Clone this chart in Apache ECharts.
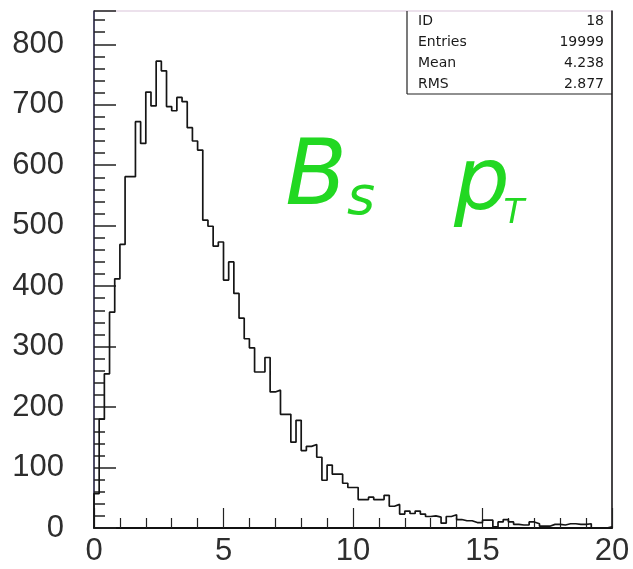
<!DOCTYPE html>
<html>
<head>
<meta charset="utf-8">
<script src="https://cdn.jsdelivr.net/npm/echarts@6/dist/echarts.min.js"></script>
<style>
  html, body { margin: 0; padding: 0; background: #ffffff; }
  #chart { width: 633px; height: 569px; }
</style>
</head>
<body>
<div id="chart"></div>
<script>
// Histogram 18: B_s transverse momentum, 100 bins from 0 to 20
const xRange = [0, 20];
const binCounts = [
  57, 180, 255, 357, 412, 469, 581, 581, 672, 636,
  721, 698, 772, 756, 697, 690, 712, 705, 662, 640,
  625, 509, 499, 466, 473, 410, 440, 388, 347, 313,
  298, 258, 258, 282, 225, 228, 188, 188, 142, 178,
  128, 135, 138, 117, 79, 104, 89, 89, 74, 67,
  67, 47, 47, 51, 47, 47, 54, 36, 39, 23,
  28, 24, 28, 23, 19, 20, 18, 8, 19, 22,
  14, 12, 12, 9, 9, 13, 13, 2, 10, 14,
  10, 6, 5, 5, 10, 7, 3, 3, 6, 6,
  5, 7, 7, 6, 6, 7, 0, 0, 0, 2
];
const yTickLabels = [0, 100, 200, 300, 400, 500, 600, 700, 800];
const xTickLabels = [0, 5, 10, 15, 20];
const statNames = ['ID', 'Entries', 'Mean', 'RMS'];
const statValues = ['18', '19999', '4.238', '2.877'];

const yMax = 855;

// outline of the histogram as a step line through the bin edges
const binWidth = (xRange[1] - xRange[0]) / binCounts.length;
const outline = [[xRange[0], 0]];
binCounts.forEach((c, i) => outline.push([xRange[0] + i * binWidth, c]));
outline.push([xRange[1], binCounts[binCounts.length - 1]]);
outline.push([xRange[1], 0]);

const chart = echarts.init(document.getElementById('chart'), null, { renderer: 'canvas' });

const gridLeft = 94, gridRight = 21, gridTop = 11, gridBottom = 41;
const boxLeft = 407, boxRight = 633 - gridRight, boxBottom = 94;

const statGraphics = [];
statNames.forEach((name, i) => {
  const y = 22 + i * 21;
  statGraphics.push({
    type: 'text', left: 418, top: y - 8,
    style: { text: name, font: '14px "DejaVu Sans"', fill: '#1a1a1a' }
  });
  statGraphics.push({
    type: 'text', right: 633 - 604, top: y - 8,
    style: { text: statValues[i], font: '14px "DejaVu Sans"', fill: '#1a1a1a', textAlign: 'right' }
  });
});

const green = '#22d822';
const labelColor = '#2e2e2e';

chart.setOption({
  animation: false,
  backgroundColor: '#ffffff',
  grid: {
    left: gridLeft, right: gridRight, top: gridTop, bottom: gridBottom,
    show: true, borderColor: '#d9c3d9', borderWidth: 1, backgroundColor: 'transparent'
  },
  xAxis: [{
    type: 'value', min: xRange[0], max: xRange[1], interval: 5,
    axisLine: { show: true, onZero: false, lineStyle: { color: '#111', width: 2 } },
    axisTick: { show: true, inside: true, length: 20, lineStyle: { color: '#222', width: 1.2 } },
    minorTick: { show: true, splitNumber: 5, length: 10, lineStyle: { color: '#222', width: 1.2 } },
    splitLine: { show: false },
    axisLabel: {
      margin: 8, color: labelColor, fontSize: 31, fontFamily: 'Liberation Sans',
      formatter: v => (xTickLabels.indexOf(v) >= 0 ? String(v) : '')
    }
  }],
  yAxis: [{
    type: 'value', min: 0, max: yMax, interval: 100, position: 'left',
    axisLine: { show: true, onZero: false, lineStyle: { color: '#1a1a3a', width: 1.5 } },
    axisTick: { show: true, inside: true, length: 22, lineStyle: { color: '#222', width: 1.5 } },
    splitLine: { show: false },
    axisLabel: {
      margin: 30, color: labelColor, fontSize: 31, fontFamily: 'Liberation Sans',
      formatter: v => (yTickLabels.indexOf(v) >= 0 ? String(v) : '')
    }
  }, {
    type: 'value', min: 0, max: yMax, interval: 20, position: 'left',
    axisLine: { show: false },
    axisTick: { show: true, inside: true, length: 11, lineStyle: { color: '#222', width: 1.5 } },
    splitLine: { show: false },
    axisLabel: { show: false }
  }, {
    type: 'value', min: 0, max: yMax, position: 'right',
    axisLine: { show: true, onZero: false, lineStyle: { color: '#111', width: 1.5 } },
    axisTick: { show: false }, splitLine: { show: false }, axisLabel: { show: false }
  }],
  series: [{
    type: 'line', xAxisIndex: 0, yAxisIndex: 0,
    data: outline, step: 'end', symbol: 'none',
    lineStyle: { color: '#151515', width: 1.7 },
    z: 3
  }],
  graphic: [
    // statistics box
    { type: 'line', shape: { x1: boxLeft, y1: gridTop, x2: boxLeft, y2: boxBottom }, style: { stroke: '#222', lineWidth: 1.2 } },
    { type: 'line', shape: { x1: boxLeft, y1: boxBottom, x2: boxRight, y2: boxBottom }, style: { stroke: '#222', lineWidth: 1.2 } },
    ...statGraphics,
    // hand-written title
    { type: 'text', x: 316, y: 181, style: { text: 'B', font: 'italic 90px "DejaVu Sans"', fill: green, textAlign: 'center', textVerticalAlign: 'middle' } },
    { type: 'text', x: 361, y: 200, style: { text: 's', font: 'italic 54px "DejaVu Sans"', fill: green, textAlign: 'center', textVerticalAlign: 'middle' } },
    { type: 'text', x: 482, y: 186, style: { text: 'p', font: 'italic 88px "DejaVu Sans"', fill: green, textAlign: 'center', textVerticalAlign: 'middle' } },
    { type: 'text', x: 514, y: 214, style: { text: 'T', font: 'italic 34px "DejaVu Sans"', fill: green, textAlign: 'center', textVerticalAlign: 'middle' } }
  ]
});
</script>
</body>
</html>
